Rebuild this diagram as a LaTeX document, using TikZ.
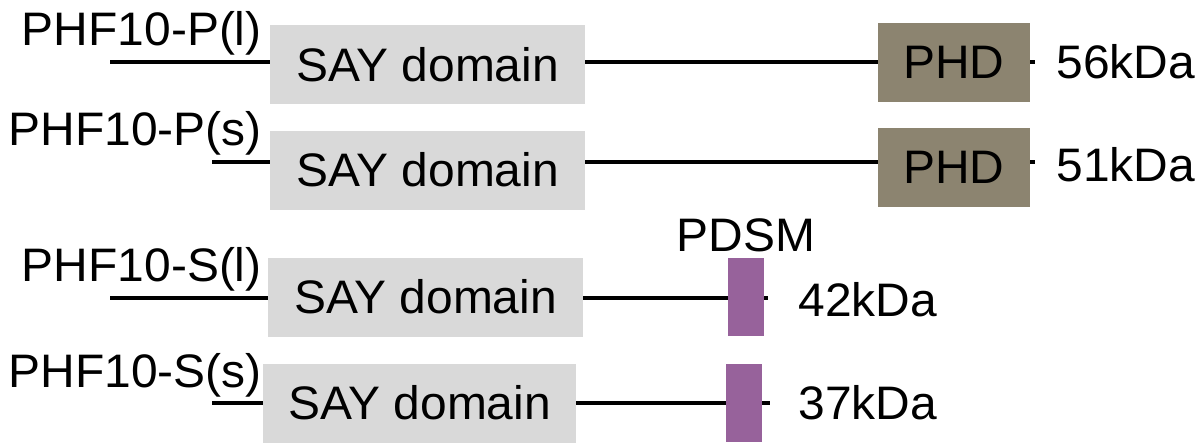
\documentclass[tikz,border=0pt]{standalone}
\usepackage{fontspec}
\setmainfont{Liberation Sans}[FakeStretch=1.02]
\usetikzlibrary{positioning}
\definecolor{saygray}{RGB}{217,217,217}
\definecolor{phdtaupe}{RGB}{140,132,112}
\definecolor{pdsmpurple}{RGB}{151,98,155}
\begin{document}
\begin{tikzpicture}[x=0.5pt, y=-0.5pt,
        txt/.style={font=\fontsize{23.5}{27}\selectfont, inner sep=0pt},
        backbone/.style={line width=2.4pt, black},
        saybox/.style={txt, fill=saygray, minimum width=157.5pt, minimum height=39.5pt},
        phdbox/.style={txt, fill=phdtaupe, minimum width=76pt, minimum height=39.5pt},
        pdsmbox/.style={fill=pdsmpurple, inner sep=0pt, minimum width=18pt, minimum height=39pt}]
    \useasboundingbox (0,0) rectangle (1200,447);
    \coordinate (pl-start) at (110,62);
    \coordinate (pl-end) at (1035,62);
    \coordinate (ps-start) at (212,162);
    \coordinate (ps-end) at (1035,162);
    \coordinate (sl-start) at (110,298);
    \coordinate (sl-end) at (768,298);
    \coordinate (ss-start) at (212,403);
    \coordinate (ss-end) at (770,403);
    \draw[backbone] (pl-start) -- (pl-end);
    \draw[backbone] (ps-start) -- (ps-end);
    \draw[backbone] (sl-start) -- (sl-end);
    \draw[backbone] (ss-start) -- (ss-end);

    \node[saybox] (pl-say) at (427.5,64.5) {SAY domain};
    \node[phdbox] (pl-phd) at (954,62) {PHD};
    \node[txt, anchor=base east] (pl-name) at (262,45) {PHF10-P(l)};
    \node[txt, anchor=west] (pl-mass) at (1056,62) {56kDa};

    \node[saybox] (ps-say) at (427.5,170) {SAY domain};
    \node[phdbox] (ps-phd) at (954,167) {PHD};
    \node[txt, anchor=base east] (ps-name) at (262,145) {PHF10-P(s)};
    \node[txt, anchor=west] (ps-mass) at (1056,165) {51kDa};

    \node[saybox] (sl-say) at (425.5,297) {SAY domain};
    \node[pdsmbox] (sl-pdsm) at (746,297) {};
    \node[txt, above=2.5pt of sl-pdsm] (pdsm-name) {PDSM};
    \node[txt, anchor=base east] (sl-name) at (262,281) {PHF10-S(l)};
    \node[txt, anchor=west] (sl-mass) at (798,300) {42kDa};

    \node[saybox, minimum width=156.5pt] (ss-say) at (419.5,403) {SAY domain};
    \node[pdsmbox] (ss-pdsm) at (743.5,403) {};
    \node[txt, anchor=base east] (ss-name) at (262,387) {PHF10-S(s)};
    \node[txt, anchor=west] (ss-mass) at (798,403) {37kDa};
\end{tikzpicture}
\end{document}
